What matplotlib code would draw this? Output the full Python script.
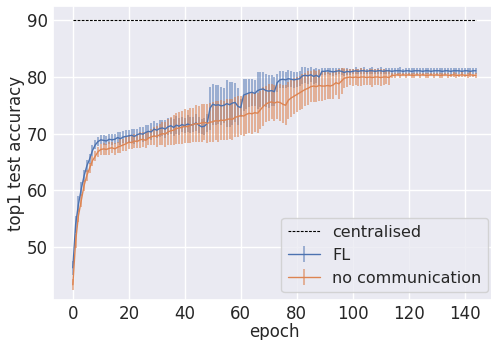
import numpy as np
import matplotlib
matplotlib.use("Agg")
import matplotlib.pyplot as plt
import seaborn as sns

epochs = list(range(145))
centralised_acc = 90.0

fl_mean = [
    46.3, 54.0, 57.5, 60.2, 62.5, 64.3, 65.5, 67.0, 68.0, 68.6,
    68.9, 68.8, 68.7, 69.0, 68.9, 69.0, 69.3, 69.1, 69.4, 69.5,
    69.6, 69.7, 69.5, 69.8, 70.0, 69.9, 70.2, 70.4, 70.3, 70.8,
    70.6, 70.9, 71.0, 70.8, 71.2, 71.4, 71.1, 71.5, 71.3, 71.6,
    71.4, 71.7, 71.5, 71.6, 71.9, 71.5, 71.2, 71.3, 71.8, 74.5,
    75.2, 75.0, 75.1, 74.9, 75.0, 75.3, 75.1, 75.4, 75.5, 74.8,
    74.6, 76.8, 77.0, 77.2, 77.3, 77.1, 77.6, 77.8, 77.9, 77.6,
    77.5, 77.6, 77.4, 79.0, 79.5, 79.6, 79.5, 79.7, 79.6, 79.5,
    79.6, 79.7, 80.2, 80.3, 80.2, 80.4, 80.1, 80.3, 80.0, 81.0,
    81.0, 81.1, 81.0, 80.9, 81.0, 81.1, 81.0, 80.8, 81.0, 80.9,
    81.0, 81.1, 81.0, 81.1, 81.1, 81.0, 81.1, 81.1, 81.0, 81.1,
    81.1, 81.0, 81.1, 81.1, 81.0, 81.1, 81.1, 81.1, 81.0, 81.1,
    81.1, 81.0, 81.1, 81.1, 81.1, 81.0, 81.1, 81.1, 81.0, 81.1,
    81.1, 81.1, 81.0, 81.1, 81.1, 81.0, 81.1, 81.1, 81.1, 81.0,
    81.1, 81.1, 81.0, 81.1, 81.1,
]
fl_err = [
    1.2, 1.5, 1.4, 1.2, 1.0, 1.0, 0.9, 0.9, 0.8, 0.8,
    0.8, 0.9, 0.8, 0.9, 1.0, 0.9, 1.0, 1.1, 1.0, 1.2,
    1.1, 1.2, 1.3, 1.1, 1.2, 1.3, 1.4, 1.2, 1.5, 1.4,
    1.3, 1.5, 1.4, 1.6, 1.5, 1.4, 1.5, 1.6, 1.5, 1.4,
    1.3, 1.5, 1.4, 1.3, 1.5, 1.4, 1.3, 1.5, 1.6, 3.8,
    3.6, 3.5, 3.4, 3.3, 3.1, 4.2, 4.0, 3.8, 3.5, 3.3,
    1.6, 2.8, 2.6, 2.5, 2.4, 2.3, 3.2, 3.1, 3.0, 2.9,
    2.9, 2.8, 2.6, 1.6, 1.5, 1.5, 1.4, 1.5, 1.4, 1.4,
    1.3, 1.3, 1.5, 1.4, 1.4, 1.3, 1.4, 1.3, 1.4, 0.6,
    0.6, 0.5, 0.6, 0.7, 0.6, 0.5, 0.6, 0.7, 0.6, 0.5,
    0.5, 0.6, 0.5, 0.5, 0.6, 0.5, 0.5, 0.6, 0.5, 0.5,
    0.6, 0.5, 0.5, 0.5, 0.6, 0.5, 0.5, 0.6, 0.5, 0.5,
    0.5, 0.6, 0.5, 0.5, 0.5, 0.6, 0.5, 0.5, 0.6, 0.5,
    0.5, 0.5, 0.6, 0.5, 0.5, 0.6, 0.5, 0.5, 0.5, 0.6,
    0.5, 0.5, 0.6, 0.5, 0.5,
]
nc_mean = [
    43.3, 51.0, 55.5, 58.2, 60.8, 62.6, 63.9, 65.2, 66.0, 66.8,
    67.2, 67.3, 67.2, 67.4, 67.5, 67.3, 67.6, 67.8, 68.0, 68.2,
    68.5, 68.4, 68.7, 68.6, 68.9, 69.0, 68.8, 69.2, 69.4, 69.6,
    69.5, 69.8, 70.0, 69.9, 70.3, 70.5, 70.6, 70.9, 71.0, 71.1,
    71.3, 71.2, 71.5, 71.6, 71.8, 71.7, 71.9, 72.0, 71.8, 72.0,
    72.1, 72.3, 72.2, 72.4, 72.3, 72.5, 72.6, 72.5, 72.9, 73.0,
    73.2, 73.1, 73.4, 73.6, 73.5, 73.7, 73.6, 74.2, 74.8, 75.2,
    75.5, 75.6, 75.4, 75.6, 75.5, 75.2, 75.0, 75.9, 76.3, 76.6,
    76.9, 77.2, 77.5, 77.8, 78.0, 78.3, 78.4, 78.3, 78.5, 78.4,
    78.4, 78.5, 78.4, 78.6, 79.0, 78.8, 79.3, 79.8, 79.9, 80.0,
    79.9, 80.0, 79.9, 80.0, 80.0, 79.9, 80.0, 79.9, 80.0, 80.0,
    79.9, 80.0, 80.0, 79.9, 80.3, 80.3, 80.4, 80.3, 80.4, 80.3,
    80.4, 80.3, 80.3, 80.4, 80.3, 80.4, 80.3, 80.3, 80.4, 80.3,
    80.4, 80.3, 80.3, 80.4, 80.3, 80.3, 80.4, 80.3, 80.3, 80.4,
    80.3, 80.3, 80.4, 80.3, 80.3,
]
nc_err = [
    1.0, 1.2, 1.2, 1.1, 1.0, 1.0, 0.9, 0.9, 0.9, 0.9,
    0.9, 1.0, 1.0, 1.1, 1.0, 1.1, 1.0, 1.2, 1.1, 1.2,
    1.2, 1.1, 1.3, 1.2, 1.4, 1.3, 1.4, 1.3, 1.5, 1.6,
    1.8, 1.9, 2.0, 2.2, 2.3, 2.5, 2.6, 2.7, 2.8, 2.9,
    3.0, 2.9, 3.1, 3.0, 3.2, 3.1, 3.3, 3.2, 3.4, 3.4,
    3.5, 3.4, 3.6, 3.5, 3.4, 3.6, 3.5, 3.7, 3.5, 3.6,
    3.5, 3.6, 3.4, 3.5, 3.6, 3.4, 3.5, 3.3, 3.4, 3.2,
    3.3, 3.1, 3.2, 3.0, 3.3, 3.4, 3.5, 3.3, 3.4, 3.2,
    3.1, 3.0, 3.1, 2.9, 3.0, 2.8, 2.9, 2.7, 2.8, 2.6,
    2.5, 2.4, 2.3, 2.4, 2.2, 2.6, 2.3, 1.8, 1.6, 1.5,
    1.5, 1.4, 1.5, 1.6, 1.5, 1.4, 1.5, 1.6, 1.5, 1.4,
    1.5, 1.4, 1.3, 1.4, 0.4, 0.4, 0.3, 0.4, 0.3, 0.4,
    0.3, 0.4, 0.4, 0.3, 0.4, 0.3, 0.4, 0.4, 0.3, 0.4,
    0.3, 0.4, 0.4, 0.3, 0.4, 0.3, 0.4, 0.4, 0.3, 0.4,
    0.3, 0.4, 0.4, 0.3, 0.4,
]

sns.set_theme(style="darkgrid")
plt.rcParams['font.family'] = ['DejaVu Sans']

fig = plt.figure(figsize=(4.91, 3.40), dpi=100)
# the reference is cropped at the right: the axes extends slightly past the edge
ax = fig.add_axes([0.1073, 0.1176, 0.903, 0.864])

blue = "#4C72B0"
orange = "#DD8452"

ax.plot([epochs[0], epochs[-1]], [centralised_acc, centralised_acc],
        color="black", linestyle="--", linewidth=0.8, dashes=(2.5, 1.2),
        label="centralised")
eb1 = ax.errorbar(epochs, fl_mean, yerr=fl_err, color=blue, linewidth=1.0,
                  elinewidth=1.3, label="FL")
for c in eb1[2]:
    c.set_alpha(0.55)
eb2 = ax.errorbar(epochs, nc_mean, yerr=nc_err, color=orange, linewidth=1.0,
                  elinewidth=1.3, label="no communication")
for c in eb2[2]:
    c.set_alpha(0.62)

ax.set_xlim(-7.2, 151.2)
ax.set_ylim(40.6, 92.5)
ax.set_xticks([0, 20, 40, 60, 80, 100, 120, 140])
ax.set_yticks([50, 60, 70, 80, 90])
ax.tick_params(labelsize=12, length=0, pad=3.5)
ax.set_xlabel("epoch", fontsize=12, labelpad=0)
ax.set_ylabel("top1 test accuracy", fontsize=12, labelpad=1)

ax.legend(loc="lower right", fontsize=11.5, borderaxespad=0.5,
          handlelength=2.0, handletextpad=0.8, labelspacing=0.5)

fig.savefig("out.png", dpi=100)
